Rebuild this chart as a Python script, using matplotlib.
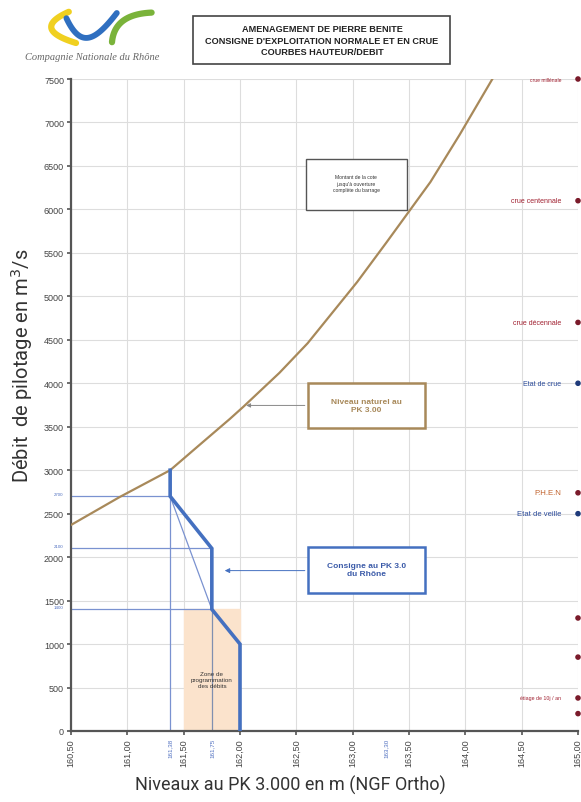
import numpy as np
import matplotlib
matplotlib.use('Agg')
import matplotlib.pyplot as plt
from matplotlib.patches import Rectangle
from math import comb

# courbe du niveau naturel au PK 3.00
niveau_x = [160.50, 160.93, 161.38, 161.64, 161.91, 162.03, 162.35, 162.60,
            163.04, 163.30, 163.69, 163.95, 164.24]
niveau_y = [2370, 2690, 3000, 3290, 3590, 3730, 4120, 4460,
            5165, 5620, 6315, 6860, 7500]

# consigne au PK 3.0 du Rhone
consigne_x = [161.38, 161.38, 161.75, 161.75, 162.00, 162.00]
consigne_y = [3000, 2700, 2100, 1400, 1000, 0]

# seuils reperes
seuils_y = [2700, 2100, 1400]
seuils_lbl = ['2700', '2100', '1400']
niveaux_x = [161.38, 161.75, 163.30]
niveaux_lbl = ['161,38', '161,75', '163,30']

# zone de programmation
zone_x = [161.5, 162.0]
zone_y = 1400

# evenements (a droite)
evt_y = [7500, 6100, 4700, 4000, 2740, 2500, 1300, 850, 380, 200]
evt_lbl = ['crue millénale', 'crue centennale', 'crue décennale', 'Etat de crue',
           'P.H.E.N', 'Etat de veille', '', '', 'étiage de 10j / an', '']
evt_col = ['#a02030', '#a02030', '#a02030', '#2a4a9a',
           '#c0602a', '#2a4a9a', '#a02030', '#a02030', '#a02030', '#a02030']
evt_pt = ['#7a1a2a', '#7a1a2a', '#7a1a2a', '#1e3a7a',
          '#7a1a2a', '#1e3a7a', '#7a1a2a', '#7a1a2a', '#7a1a2a', '#7a1a2a']
evt_fs = [3.6, 5, 5, 5, 5.6, 5.5, 5, 5, 3.8, 5]

xticks = [160.5, 161.0, 161.5, 162.0, 162.5, 163.0, 163.5, 164.0, 164.5, 165.0]
yticks = list(range(0, 7501, 500))

brun = '#a8895a'
bleu = '#4470c0'
bleu_fin = '#7a92d0'

plt.rcParams['font.family'] = ['Liberation Sans', 'DejaVu Sans']

fig = plt.figure(figsize=(5.81, 8.03), dpi=100)
ax = fig.add_axes([71 / 581, 1 - 732 / 803, 507 / 581, 652 / 803])

ax.set_xlim(160.5, 165.0)
ax.set_ylim(0, 7500)
ax.set_xticks(xticks)
ax.set_xticklabels([('%.2f' % v).replace('.', ',') for v in xticks],
                   rotation=90, fontsize=6.5, color='#444444')
ax.set_yticks(yticks)
ax.set_yticklabels([str(v) for v in yticks], fontsize=6.5, color='#444444')
ax.tick_params(axis='both', length=3, width=1.2, color='#555555', pad=2)
ax.grid(True, color='#dddddd', linewidth=0.8)
ax.set_axisbelow(True)
for s in ['top', 'right']:
    ax.spines[s].set_visible(False)
for s in ['left', 'bottom']:
    ax.spines[s].set_color('#555555')
    ax.spines[s].set_linewidth(1.6)

# zone de programmation
ax.fill_between(zone_x, 0, zone_y, color='#fbe3cc', zorder=1)
ax.text(sum(zone_x) / 2, 590, 'Zone de\nprogrammation\ndes débits', ha='center',
        va='center', fontsize=4.5, color='#333333', linespacing=1.3)

# lignes fines de repere
ax.plot([160.5, consigne_x[1]], [seuils_y[0]] * 2, color=bleu_fin, lw=0.9)
ax.plot([160.5, consigne_x[2]], [seuils_y[1]] * 2, color=bleu_fin, lw=0.9)
ax.plot([160.5, consigne_x[3]], [seuils_y[2]] * 2, color=bleu_fin, lw=0.9)
ax.plot([niveaux_x[0]] * 2, [0, consigne_y[0]], color=bleu_fin, lw=0.9)
ax.plot([niveaux_x[1]] * 2, [0, seuils_y[2]], color='#8090b0', lw=0.9)
ax.plot([consigne_x[1], consigne_x[3]], [consigne_y[1], consigne_y[3]],
        color=bleu_fin, lw=0.9)

# courbes principales
ax.plot(niveau_x, niveau_y, color=brun, lw=1.6, zorder=4)
ax.plot(consigne_x, consigne_y, color=bleu, lw=2.6, zorder=5,
        solid_joinstyle='miter')

# reperes bleus sur les axes
for v, t in zip(seuils_y, seuils_lbl):
    ax.text(160.43, v, t, ha='right', va='bottom', fontsize=3.2, color='#5070c0')
for v, t in zip(niveaux_x, niveaux_lbl):
    ax.text(v, -75, t, ha='center', va='top', rotation=90, fontsize=4.5,
            color='#5070c0')

# evenements
ax.scatter([165.0] * len(evt_y), evt_y, s=9, color=evt_pt, zorder=6,
           clip_on=False)
for v, t, c, f in zip(evt_y, evt_lbl, evt_col, evt_fs):
    ax.text(164.85, v, t, ha='right', va='center', fontsize=f, color=c)

# boites d'annotation
ax.annotate('', xy=(162.03, 3745), xytext=(162.6, 3745),
            arrowprops=dict(arrowstyle='-|>', color='#888888', lw=0.7,
                            mutation_scale=6))
ax.add_patch(Rectangle((162.6, 3485), 1.04, 520, fill=True, facecolor='white',
                       edgecolor=brun, lw=1.8, zorder=7))
ax.text(163.12, 3745, 'Niveau naturel au\nPK 3.00', ha='center', va='center',
        fontsize=6, color=brun, fontweight='bold', zorder=8)

ax.annotate('', xy=(161.84, 1845), xytext=(162.6, 1845),
            arrowprops=dict(arrowstyle='-|>', color=bleu, lw=0.7,
                            mutation_scale=7))
ax.add_patch(Rectangle((162.6, 1590), 1.04, 525, fill=True, facecolor='white',
                       edgecolor=bleu, lw=1.8, zorder=7))
ax.text(163.12, 1852, 'Consigne au PK 3.0\ndu Rhône', ha='center', va='center',
        fontsize=6, color='#3a5aa8', fontweight='bold', zorder=8)

ax.add_patch(Rectangle((162.59, 5990), 0.89, 590, fill=True, facecolor='white',
                       edgecolor='#555555', lw=1.0, zorder=7))
ax.text(163.03, 6300, "Montant de la cote\njusqu'à ouverture\ncomplète du barrage",
        ha='center', va='center', fontsize=3.6, color='#333333', zorder=8,
        linespacing=1.4)

# titres des axes
fig.text(0.5, 1 - 785 / 803, 'Niveaux au PK 3.000 en m (NGF Ortho)', ha='center',
         va='center', fontsize=13, color='#333333', family=['Roboto', 'DejaVu Sans'])
fig.text(22 / 581, 1 - 366 / 803, 'Débit  de pilotage en m$^3$/s', ha='center',
         va='center', rotation=90, fontsize=14.5, color='#333333',
         family=['Roboto', 'DejaVu Sans'])

# cartouche titre
fig.patches.append(Rectangle((193 / 581, 1 - 65 / 803), 257 / 581, 48 / 803,
                             transform=fig.transFigure, fill=False,
                             edgecolor='#444444', lw=1.2))
fig.text(322 / 581, 1 - 41 / 803,
         "AMENAGEMENT DE PIERRE BENITE\nCONSIGNE D'EXPLOITATION NORMALE ET EN CRUE\nCOURBES HAUTEUR/DEBIT",
         ha='center', va='center', fontsize=6.6, fontweight='bold', color='#222222',
         linespacing=1.3)

# logo CNR
lg = fig.add_axes([40 / 581, 1 - 48 / 803, 120 / 581, 40 / 803])
lg.set_xlim(0, 1)
lg.set_ylim(0, 1)
lg.axis('off')
t = np.linspace(0, 1, 60)


def bezier(pts):
    pts = np.array(pts, dtype=float)
    n = len(pts) - 1
    out = np.zeros((len(t), 2))
    for i, p in enumerate(pts):
        out += comb(n, i) * ((1 - t) ** (n - i) * t ** i)[:, None] * p
    return out[:, 0], out[:, 1]


lg.plot(*bezier([(0.24, 0.88), (-0.08, 0.45), (0.30, 0.10)]), color='#f0d020',
        lw=4.5, solid_capstyle='round')
lg.plot(*bezier([(0.22, 0.72), (0.34, -0.05), (0.46, 0.15), (0.64, 0.85)]),
        color='#2f6fc0', lw=4.2, solid_capstyle='round')
lg.plot(*bezier([(0.60, 0.12), (0.62, 0.82), (0.93, 0.86)]), color='#7ab33a',
        lw=4.5, solid_capstyle='round')
fig.text(92 / 581, 1 - 58 / 803, 'Compagnie Nationale du Rhône', ha='center',
         va='center', fontsize=7.5, style='italic', color='#666666',
         family=['Liberation Serif', 'DejaVu Serif'])

fig.savefig('out.png', dpi=100)
